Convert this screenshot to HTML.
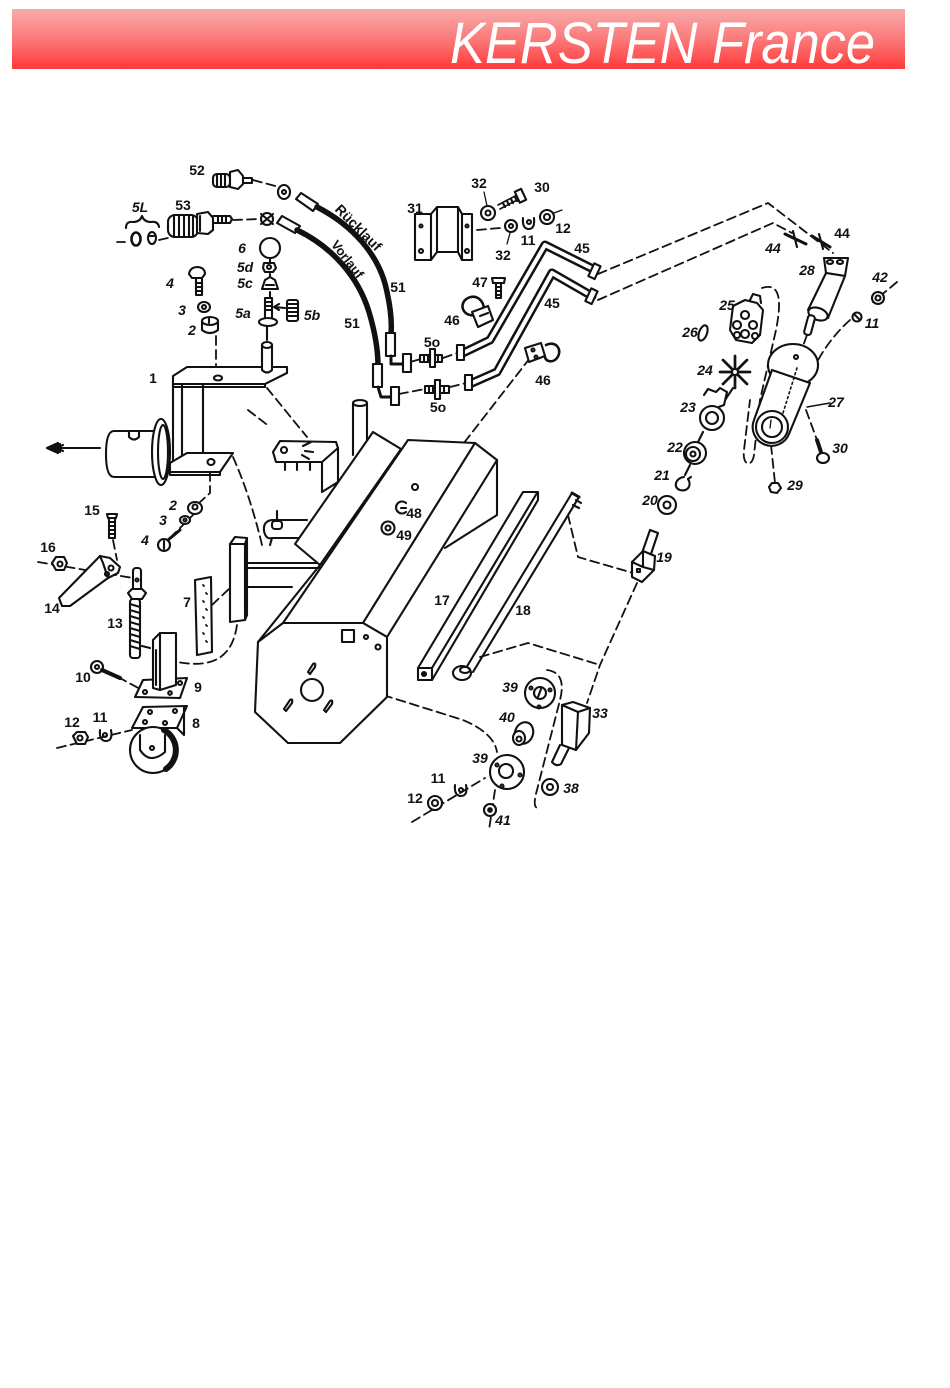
<!DOCTYPE html>
<html><head><meta charset="utf-8">
<style>
html,body{margin:0;padding:0;background:#fff;}
body{width:950px;height:1388px;position:relative;overflow:hidden;}
#hdr{position:absolute;left:12px;top:9px;width:893px;height:60px;background:linear-gradient(to bottom,#f8abab 0%,#fb7a7a 50%,#ff3838 100%);}
svg{position:absolute;left:0;top:0;}
</style></head><body>
<div id="hdr"></div>
<svg width="950" height="1388" viewBox="0 0 950 1388" xmlns="http://www.w3.org/2000/svg">
<text x="450" y="63" font-family="Liberation Sans, sans-serif" font-style="italic" font-size="58" fill="#ffffff" textLength="425" lengthAdjust="spacingAndGlyphs">KERSTEN France</text>

<g stroke="#111" fill="none" stroke-width="2.1" stroke-linejoin="round" stroke-linecap="round">

<!-- ===== dashed connectors ===== -->
<g stroke-dasharray="9 5" stroke-width="1.8">
  <path d="M253,180 L279,187"/>
  <path d="M233,220 L260,219"/>
  <path d="M117,242 L125,242"/>
  <path d="M159,240 L168,238"/>
  <path d="M410,362 L421,359"/>
  <path d="M443,358 L457,353"/>
  <path d="M399,394 L425,389"/>
  <path d="M450,387 L466,383"/>
  <path d="M598,274 L768,203 L833,253"/>
  <path d="M598,300 L773,223 L792,233"/>
  <path d="M477,230 L500,228"/>
  <path d="M530,358 L376,556"/>
  <path d="M216,336 L216,378"/>
  <path d="M267,388 L307,437"/>
  <path d="M248,410 L270,427"/>
  <path d="M210,472 L210,493 L199,503"/>
  <path d="M233,457 Q250,495 262,545"/>
  <path d="M212,605 L230,588"/>
  <path d="M237,625 C232,660 210,668 177,662"/>
  <path d="M303,670 L463,720 Q494,733 497,752"/>
  <path d="M568,515 L578,557 L633,573"/>
  <path d="M637,583 L600,665 L587,703"/>
  <path d="M480,657 L528,643 L600,665"/>
  <path d="M547,670 C562,672 564,684 560,700 L537,790 Q532,808 538,808"/>
  <path d="M412,822 L485,778"/>
  <path d="M495,790 L489,830"/>
  <path d="M57,748 L132,730"/>
  <path d="M118,677 L142,690"/>
  <path d="M38,562 L133,578"/>
  <path d="M113,540 L117,560"/>
  <path d="M196,512 L168,540"/>
  <path d="M850,320 Q830,338 817,362"/>
  <path d="M897,282 L873,302"/>
  <path d="M771,445 L775,483"/>
  <path d="M806,410 L817,440"/>
  <path d="M807,335 L803,346"/>
  <path d="M762,288 C780,282 782,300 776,330 L760,400 L754,455 C752,468 742,466 744,450 L750,400"/>
  <path d="M415,487 L405,500"/>
</g>

<!-- ===== hitch / frame 1 ===== -->
<path d="M47,448 L100,448"/>
<path d="M47,448 L58,443 M47,448 L58,453 M52,448 L60,444 M52,448 L60,452 M56,448 L63,445 M56,448 L63,451"/>
<path d="M157,431 L114,431 Q106,431 106,454 Q106,477 114,477 L157,477" fill="#fff"/>
<path d="M129,431 L129,437 Q134,442 139,437 L139,431"/>
<ellipse cx="161" cy="452" rx="9" ry="33" fill="#fff"/>
<ellipse cx="163" cy="452" rx="5" ry="27"/>
<path d="M173,384 L173,463 M182,384 L182,456 M203,384 L203,453"/>
<polygon points="173,376 187,367 287,367 287,373 265,384 173,384" fill="#fff"/>
<path d="M173,384 L173,387 L265,387 L265,384"/>
<ellipse cx="218" cy="378" rx="4" ry="2.5"/>
<polygon points="170,463 187,453 233,453 220,472 170,472" fill="#fff"/>
<ellipse cx="211" cy="462" rx="3.5" ry="3"/>
<path d="M170,472 L170,475 L220,475 L220,472"/>
<path d="M262,345 L262,370 Q267,375 272,370 L272,345" fill="#fff"/>
<ellipse cx="267" cy="345" rx="5" ry="3" fill="#fff"/>

<!-- stud group 5a-6 -->
<circle cx="270" cy="248" r="10" fill="#fff"/>
<path d="M270,258 L270,262 M270,274 L270,278 M270,292 L270,297 M267,327 L267,340"/>
<path d="M264,263 L274,263 L276,268 L273,272 L265,272 L263,268 Z" fill="#fff"/>
<circle cx="269" cy="267" r="2"/>
<path d="M262,289 L265,280 L270,277 L275,280 L278,289 Z" fill="#fff"/>
<path d="M266,285 L274,285"/>
<rect x="265" y="298" width="7" height="21" fill="#fff"/>
<path d="M265,302 L272,302 M265,306 L272,306 M265,310 L272,310"/>
<ellipse cx="268" cy="322" rx="9" ry="4" fill="#fff"/>
<rect x="287" y="300" width="11" height="21" rx="2" fill="#fff"/>
<path d="M287,304 L298,304 M287,308 L298,308 M287,312 L298,312 M287,316 L298,316"/>
<path d="M285,308 L274,307 M274,307 L279,304 M274,307 L279,310"/>

<!-- bolt 4 / washer 3 / bushing 2 (upper) -->
<path d="M189,274 Q190,267 198,267 Q205,268 205,274 L202,278 L192,278 Z" fill="#fff"/>
<rect x="196" y="278" width="6" height="17" fill="#fff"/>
<path d="M196,283 L202,283 M196,287 L202,287 M196,291 L202,291"/>
<ellipse cx="204" cy="307" rx="6" ry="5" fill="#fff"/>
<circle cx="204" cy="307" r="2"/>
<path d="M202,321 L202,330 Q210,336 218,330 L218,321" fill="#fff"/>
<ellipse cx="210" cy="321" rx="8" ry="4" fill="#fff"/>
<path d="M209,318 L209,323"/>

<!-- fitting 52 -->
<rect x="213" y="174" width="17" height="13" rx="4" fill="#fff"/>
<path d="M217,174 L217,187 M221,174 L221,187 M225,174 L225,187"/>
<path d="M230,172 L238,170 L243,176 L243,184 L238,189 L230,187 Z" fill="#fff"/>
<path d="M243,178 L252,178 L252,183 L243,183"/>
<ellipse cx="284" cy="192" rx="6" ry="7" fill="#fff"/>
<circle cx="284" cy="192" r="2"/>
<polygon points="296,199 301,193 318,204 313,211" fill="#fff"/>
<!-- fitting 53 & 5L -->
<rect x="168" y="215" width="30" height="22" rx="7" fill="#fff"/>
<path d="M174,216 L174,236 M179,215 L179,237 M184,215 L184,237 M189,215 L189,237 M193,216 L193,236"/>
<path d="M197,214 L208,212 L213,218 L213,230 L208,234 L197,233 Z" fill="#fff"/>
<path d="M200,216 L200,231"/>
<path d="M213,216 L230,216 L232,219 L230,223 L213,223"/>
<path d="M218,216 L218,223 M222,216 L222,223 M226,216 L226,223"/>
<circle cx="267" cy="219" r="6" fill="#fff"/>
<path d="M261,214 L273,224 M261,224 L273,214"/>
<polygon points="277,223 282,216 300,226 295,233" fill="#fff"/>
<ellipse cx="136" cy="239" rx="4.5" ry="6.5" stroke-width="2.6"/>
<ellipse cx="152" cy="238" rx="4" ry="6" fill="#fff"/>
<path d="M150,236 L154,236"/>
<path d="M126,228 Q126,221 133,222 Q140,222 142,216 Q144,222 151,222 Q158,221 159,227"/>

<!-- hoses -->
<path d="M317,207 C352,225 380,255 387,292 C391,310 392,322 391,334" stroke-width="5.5"/>
<path d="M297,230 C332,247 358,276 369,312 C375,332 378,350 378,366" stroke-width="5.5"/>
<rect x="386" y="333" width="9" height="23" fill="#fff"/>
<path d="M391,356 L391,364 L403,364" stroke-width="3"/>
<rect x="403" y="354" width="8" height="18" fill="#fff"/>
<rect x="373" y="364" width="9" height="23" fill="#fff"/>
<path d="M378,387 L381,397 L392,397" stroke-width="3"/>
<rect x="391" y="387" width="8" height="18" fill="#fff"/>
<text x="0" y="0" transform="translate(355,231) rotate(45)" text-anchor="middle" font-family="Liberation Sans, sans-serif" font-size="14" fill="#111" stroke="none" font-weight="bold">Rücklauf</text>
<text x="0" y="0" transform="translate(344,262) rotate(52)" text-anchor="middle" font-family="Liberation Sans, sans-serif" font-size="13" fill="#111" stroke="none" font-weight="bold">Vorlauf</text>

<!-- 5o fittings -->
<rect x="420" y="355" width="22" height="7" fill="#fff"/>
<path d="M424,355 L424,362 M428,355 L428,362 M438,355 L438,362"/>
<rect x="430" y="349" width="5" height="18" fill="#fff"/>
<rect x="425" y="386" width="24" height="7" fill="#fff"/>
<path d="M429,386 L429,393 M433,386 L433,393 M444,386 L444,393"/>
<rect x="435" y="380" width="5" height="19" fill="#fff"/>

<!-- pipes 45 -->
<path d="M463,353 L490,340 L545,245 L595,270" stroke-width="9"/>
<path d="M463,353 L490,340 L545,245 L595,270" stroke="#fff" stroke-width="4"/>
<path d="M472,383 L497,372 L552,273 L592,296" stroke-width="9"/>
<path d="M472,383 L497,372 L552,273 L592,296" stroke="#fff" stroke-width="4"/>
<rect x="457" y="345" width="7" height="15" fill="#fff"/>
<rect x="465" y="375" width="7" height="15" fill="#fff"/>
<rect x="591" y="264" width="7" height="14" fill="#fff" transform="rotate(25 594 271)"/>
<rect x="588" y="289" width="7" height="14" fill="#fff" transform="rotate(25 591 296)"/>

<!-- bracket 31 -->
<path d="M415,214 L431,214 L437,207 L458,207 L462,214 L472,214 L472,260 L462,260 L458,252 L437,252 L431,260 L415,260 Z" fill="#fff"/>
<path d="M431,214 L431,260 M437,207 L437,252 M458,207 L458,252 M462,214 L462,260"/>
<circle cx="421" cy="226" r="1.5"/><circle cx="421" cy="251" r="2"/><circle cx="467" cy="226" r="1.5"/><circle cx="467" cy="251" r="2"/>
<!-- 30 bolt, 32, 11, 12 -->
<path d="M484,192 L487,206" stroke-width="1.3"/>
<circle cx="488" cy="213" r="7" fill="#fff"/><circle cx="488" cy="213" r="2.5"/>
<path d="M498,205 L517,195 M500,209 L519,199" stroke-width="1.6"/>
<path d="M503,203 L505,207 M507,201 L509,205 M511,199 L513,203 M515,197 L517,201"/>
<rect x="517" y="190" width="7" height="12" fill="#fff" transform="rotate(-25 520 196)"/>
<circle cx="511" cy="226" r="6" fill="#fff"/><circle cx="511" cy="226" r="2"/>
<path d="M507,244 L510,233" stroke-width="1.3"/>
<path d="M523,218 Q522,229 529,229 Q535,229 534,218" />
<circle cx="529" cy="222" r="2"/>
<circle cx="547" cy="217" r="7" fill="#fff"/><circle cx="547" cy="217" r="3"/>
<path d="M554,213 L562,210" stroke-width="1.3"/>

<!-- clamps 46 / bolt 47 -->
<path d="M477,315 C462,318 458,303 468,298 C476,294 484,300 484,310" stroke-width="2.6"/>
<polygon points="472,312 488,306 493,320 478,327" fill="#fff"/>
<path d="M480,316 L488,313"/>
<path d="M492,278 L505,278 L504,283 L493,283 Z" fill="#fff"/>
<rect x="496" y="283" width="5" height="15" fill="#fff"/>
<path d="M496,287 L501,287 M496,291 L501,291 M496,295 L501,295"/>
<path d="M546,345 C556,340 563,350 557,358 C553,363 546,362 545,357" stroke-width="2.6"/>
<polygon points="525,348 541,343 545,356 529,362" fill="#fff"/>
<circle cx="533" cy="350" r="1.5"/><circle cx="536" cy="357" r="1.5"/>

<!-- 44 fittings & 28 -->
<path d="M785,234 L806,244" stroke-width="3"/>
<path d="M793,231 L797,247"/>
<path d="M812,236 L830,247" stroke-width="3"/>
<path d="M819,234 L823,249"/>
<polygon points="824,258 848,258 845,276 826,273" fill="#fff"/>
<ellipse cx="830" cy="262" rx="3" ry="2"/><ellipse cx="840" cy="262" rx="3" ry="2"/>
<polygon points="826,273 845,276 828,318 808,310" fill="#fff"/>
<ellipse cx="818" cy="314" rx="10" ry="6" fill="#fff" transform="rotate(20 818 314)"/>
<rect x="806" y="315" width="7" height="20" rx="3" fill="#fff" transform="rotate(15 809 325)"/>

<!-- 42, 11 right -->
<circle cx="878" cy="298" r="6" fill="#fff"/><circle cx="878" cy="298" r="2.5"/>
<circle cx="857" cy="317" r="4.5" fill="#fff"/><path d="M855,315 L859,319"/>

<!-- 27 -->
<ellipse cx="793" cy="365" rx="25" ry="21" fill="#fff"/>
<path d="M772,370 L754,420 A17,17 0 0 0 789,434 L810,383 Z" fill="#fff"/>
<circle cx="772" cy="427" r="16" fill="#fff"/>
<circle cx="772" cy="427" r="10"/>
<path d="M771,420 L770,428" stroke-width="1.3"/>
<path d="M797,368 L783,413" stroke-dasharray="2 3" stroke-width="1.6"/>
<circle cx="796" cy="357" r="2"/>
<path d="M807,407 L830,403" stroke-width="1.4"/>
<!-- 30, 29 -->
<path d="M817,440 L822,455" stroke-width="4"/>
<ellipse cx="823" cy="458" rx="6" ry="5" fill="#fff"/>
<path d="M772,483 L778,483 L781,488 L777,493 L771,492 L769,487 Z" fill="#fff"/>

<!-- 25, 26, 24, 23, 22, 21, 20 -->
<path d="M745,300 L757,303 L763,310 L760,335 L752,343 L736,340 L730,330 L733,306 Z" fill="#fff"/>
<circle cx="745" cy="315" r="4"/><circle cx="737" cy="325" r="4"/><circle cx="753" cy="325" r="4"/><circle cx="745" cy="334" r="4"/><circle cx="737" cy="335" r="3"/><circle cx="755" cy="336" r="3"/>
<path d="M750,300 L753,294 L760,296 L761,303"/>
<ellipse cx="703" cy="333" rx="4" ry="8" transform="rotate(20 703 333)"/>
<path d="M735,372 L735,356 M735,372 L747,360 M735,372 L750,372 M735,372 L747,384 M735,372 L735,388 M735,372 L723,384 M735,372 L720,372 M735,372 L723,360" stroke-width="2.7"/>
<circle cx="735" cy="372" r="3" fill="#fff"/>
<path d="M733,388 L725,400"/>
<path d="M704,395 L708,389 L716,392 L720,388 L727,392 L724,405 L716,408" fill="#fff"/>
<circle cx="712" cy="418" r="12" fill="#fff"/>
<circle cx="712" cy="418" r="6"/>
<path d="M703,432 L698,442"/>
<ellipse cx="695" cy="453" rx="11" ry="11" fill="#fff"/>
<circle cx="693" cy="454" r="7"/><circle cx="693" cy="454" r="2.5"/>
<path d="M690,465 L685,475"/>
<path d="M684,477 C675,478 673,488 680,490 C688,492 692,485 688,479"/>
<path d="M688,479 L691,477"/>
<circle cx="667" cy="505" r="9" fill="#fff"/><circle cx="667" cy="505" r="3.5"/>
<!-- 19 -->
<polygon points="642,553 650,530 658,533 650,557" fill="#fff"/>
<polygon points="632,562 643,551 655,556 654,570 642,582 632,577" fill="#fff"/>
<path d="M643,551 L643,567 L654,570 M632,562 L643,567"/>
<rect x="637" y="569" width="3" height="3"/>

<!-- posts behind housing -->
<path d="M353,403 L353,455 M367,403 L367,450" fill="#fff"/>
<ellipse cx="360" cy="403" rx="7" ry="3" fill="#fff"/>
<path d="M273,452 L280,441 L336,442 L338,448 L322,462 L276,462 Z" fill="#fff"/>
<path d="M322,462 L322,492 M338,448 L338,482 M322,492 L338,482"/>
<path d="M285,462 L285,470 M297,462 L297,470 M310,462 L310,470"/>
<circle cx="284" cy="450" r="3"/>
<path d="M303,446 L311,442 M305,451 L313,452 M302,455 L309,459"/>
<!-- small bracket 10 -->
<path d="M307,520 L272,520 Q263,521 264,531 Q266,540 272,538 L300,538" fill="#fff"/>
<path d="M272,538 L270,545"/>
<rect x="272" y="521" width="10" height="8" rx="3" fill="#fff"/>
<path d="M277,520 L277,511"/>
<!-- beam and post -->
<path d="M247,563 L322,563 M247,568 L322,568 M247,587 L292,587" />
<path d="M230,544 L230,622 L245,620 L245,541" fill="#fff"/>
<polygon points="230,544 235,537 247,538 245,544" fill="#fff"/>
<path d="M247,538 L247,615 L245,620"/>

<!-- ===== housing ===== -->
<polygon points="295,544 373,432 401,449 320,565" fill="#fff"/>
<polygon points="283,623 408,440 475,443 363,623" fill="#fff"/>
<polygon points="363,623 475,443 497,460 387,637" fill="#fff"/>
<path d="M497,460 L497,515 L445,548"/>
<path d="M258,642 L320,565"/>
<polygon points="258,642 283,623 363,623 387,637 387,697 340,743 288,743 255,712" fill="#fff"/>
<rect x="342" y="630" width="12" height="12"/>
<circle cx="366" cy="637" r="2"/><circle cx="378" cy="647" r="2.5"/>
<circle cx="312" cy="690" r="11"/>
<path d="M308,672 L313,664 Q316,662 315,667 L310,674 Z"/>
<path d="M284,709 L290,700 Q293,698 292,703 L286,711 Z"/>
<path d="M324,710 L330,701 Q333,699 332,704 L326,712 Z"/>
<circle cx="415" cy="487" r="3" fill="#fff"/>
<path d="M406,503 A6,6 0 1 0 406,512 M401,508 L406,508"/>
<circle cx="388" cy="528" r="6.5" fill="#fff"/><circle cx="388" cy="528" r="2.5"/>

<!-- 17 bar -->
<polygon points="418,668 523,492 538,492 538,500 432,680 418,680" fill="#fff"/>
<path d="M432,668 L537,493 M418,668 L432,668 L432,680"/>
<circle cx="424" cy="674" r="2" fill="#111"/>
<!-- 18 rod -->
<path d="M466,668 L572,493 M473,672 L579,497"/>
<path d="M572,493 L579,497" stroke-width="3"/>
<path d="M573,505 L579,508 M576,500 L581,503"/>
<ellipse cx="462" cy="673" rx="9" ry="7" fill="#fff"/>
<ellipse cx="465" cy="670" rx="5" ry="3"/>

<!-- 39, 40, 33, 38, 41, 11, 12 lower -->
<circle cx="540" cy="693" r="15" fill="#fff"/>
<circle cx="540" cy="693" r="6"/>
<circle cx="531" cy="688" r="1.5"/><circle cx="550" cy="690" r="1.5"/><circle cx="539" cy="707" r="1.5"/>
<path d="M538,697 L541,689"/>
<ellipse cx="524" cy="733" rx="9" ry="11" fill="#fff" transform="rotate(20 524 733)"/>
<ellipse cx="519" cy="738" rx="6" ry="7" fill="#fff"/>
<circle cx="519" cy="739" r="2.5"/>
<circle cx="507" cy="772" r="17" fill="#fff"/>
<circle cx="506" cy="771" r="7"/>
<circle cx="497" cy="765" r="1.5"/><circle cx="520" cy="775" r="1.5"/><circle cx="502" cy="786" r="1.5"/>
<polygon points="562,705 573,702 590,708 589,733 576,750 562,745" fill="#fff"/>
<path d="M562,705 L578,712 L590,708 M578,712 L576,750"/>
<path d="M560,745 L552,762 Q556,767 561,764 L569,748"/>
<circle cx="550" cy="787" r="8" fill="#fff"/><circle cx="550" cy="787" r="3"/>
<circle cx="490" cy="810" r="6" fill="#fff"/><circle cx="490" cy="810" r="1.8" fill="#111"/>
<path d="M455,785 Q454,796 461,796 Q468,796 466,785"/>
<circle cx="461" cy="790" r="2"/>
<circle cx="435" cy="803" r="7" fill="#fff"/><circle cx="435" cy="803" r="3"/>

<!-- lower left -->
<ellipse cx="195" cy="508" rx="7" ry="6" fill="#fff"/><circle cx="195" cy="507" r="2.5"/>
<ellipse cx="185" cy="520" rx="5" ry="4" fill="#fff"/><circle cx="185" cy="520" r="1.5"/>
<circle cx="164" cy="545" r="6" fill="#fff"/><path d="M164,541 L164,549"/>
<path d="M168,540 L180,530" stroke-width="3"/>
<path d="M107,514 L117,514 L116,518 L108,518 Z" fill="#fff"/>
<rect x="109" y="518" width="6" height="20" fill="#fff"/>
<path d="M109,522 L115,522 M109,526 L115,526 M109,530 L115,530 M109,534 L115,534"/>
<path d="M52,563 L56,557 L64,557 L67,563 L64,570 L56,570 Z" fill="#fff"/>
<circle cx="60" cy="564" r="2.5"/>
<polygon points="59,598 100,556 110,558 120,567 118,573 108,578 70,606 62,606" fill="#fff"/>
<path d="M100,556 L103,563 L108,578"/>
<circle cx="111" cy="568" r="2.5"/><circle cx="107" cy="574" r="2"/>
<rect x="133" y="568" width="8" height="23" rx="3" fill="#fff"/>
<circle cx="137" cy="580" r="1.5"/>
<path d="M128,593 L132,589 L142,589 L146,593 L142,599 L132,599 Z" fill="#fff"/>
<rect x="130" y="599" width="10" height="59" rx="3" fill="#fff"/>
<path d="M130,604 L140,607 M130,610 L140,613 M130,616 L140,619 M130,622 L140,625 M130,628 L140,631 M130,634 L140,637 M130,640 L140,643 M130,646 L140,649"/>
<path d="M142,646 L150,648"/>
<circle cx="97" cy="667" r="6" fill="#fff"/><circle cx="97" cy="667" r="2"/>
<path d="M102,670 L120,678" stroke-width="4"/>
<polygon points="135,697 143,680 187,678 180,698" fill="#fff"/>
<circle cx="145" cy="692" r="2"/><circle cx="180" cy="683" r="2"/><circle cx="170" cy="693" r="1.8"/>
<polygon points="153,640 160,633 176,633 176,685 160,690 153,688" fill="#fff"/>
<path d="M160,633 L160,690"/>
<path d="M156,650 L156,685"/>
<polygon points="132,728 143,707 187,706 177,728" fill="#fff"/>
<circle cx="150" cy="712" r="2"/><circle cx="175" cy="711" r="2"/><circle cx="145" cy="722" r="2"/><circle cx="165" cy="723" r="2"/>
<path d="M177,728 L184,735 L184,706"/>
<circle cx="153" cy="750" r="23" fill="#fff"/>
<path d="M164,730 A23,23 0 0 1 166,769" stroke-width="6"/>
<path d="M140,735 L140,750 Q150,765 165,752 L165,735"/>
<circle cx="152" cy="748" r="2"/>
<path d="M100,730 Q99,741 106,741 Q113,741 111,730"/>
<circle cx="105" cy="735" r="2"/>
<path d="M73,736 L77,732 L85,732 L88,737 L85,744 L77,744 Z" fill="#fff"/>
<circle cx="80" cy="738" r="2.5"/>
<polygon points="195,580 211,577 212,652 197,655" fill="#fff"/>
<g stroke-width="1.8">
<path d="M203,585 L204,586 M206,593 L207,594 M203,601 L204,602 M206,609 L207,610 M203,617 L204,618 M206,625 L207,626 M203,633 L204,634 M206,641 L207,642"/>
</g>
</g>

<!-- ===== labels ===== -->
<g font-family="Liberation Sans, sans-serif" font-size="14" fill="#111" text-anchor="middle" font-weight="bold">
<text x="197" y="175">52</text>
<text x="183" y="210">53</text>
<text x="140" y="212" font-style="italic">5L</text>
<text x="242" y="253" font-style="italic">6</text>
<text x="245" y="272" font-style="italic">5d</text>
<text x="245" y="288" font-style="italic">5c</text>
<text x="243" y="318" font-style="italic">5a</text>
<text x="312" y="320" font-style="italic">5b</text>
<text x="170" y="288" font-style="italic">4</text>
<text x="182" y="315" font-style="italic">3</text>
<text x="192" y="335" font-style="italic">2</text>
<text x="153" y="383">1</text>
<text x="398" y="292">51</text>
<text x="352" y="328">51</text>
<text x="415" y="213">31</text>
<text x="479" y="188">32</text>
<text x="542" y="192">30</text>
<text x="503" y="260">32</text>
<text x="528" y="245">11</text>
<text x="563" y="233">12</text>
<text x="582" y="253">45</text>
<text x="552" y="308">45</text>
<text x="480" y="287">47</text>
<text x="452" y="325">46</text>
<text x="543" y="385">46</text>
<text x="432" y="347">5o</text>
<text x="438" y="412">5o</text>
<text x="842" y="238">44</text>
<text x="773" y="253" font-style="italic">44</text>
<text x="807" y="275" font-style="italic">28</text>
<text x="880" y="282" font-style="italic">42</text>
<text x="872" y="328" font-style="italic">11</text>
<text x="727" y="310" font-style="italic">25</text>
<text x="690" y="337" font-style="italic">26</text>
<text x="705" y="375" font-style="italic">24</text>
<text x="688" y="412" font-style="italic">23</text>
<text x="836" y="407" font-style="italic">27</text>
<text x="840" y="453" font-style="italic">30</text>
<text x="675" y="452" font-style="italic">22</text>
<text x="662" y="480" font-style="italic">21</text>
<text x="795" y="490" font-style="italic">29</text>
<text x="650" y="505" font-style="italic">20</text>
<text x="664" y="562" font-style="italic">19</text>
<text x="414" y="518">48</text>
<text x="404" y="540">49</text>
<text x="173" y="510" font-style="italic">2</text>
<text x="163" y="525" font-style="italic">3</text>
<text x="145" y="545" font-style="italic">4</text>
<text x="92" y="515">15</text>
<text x="48" y="552">16</text>
<text x="52" y="613">14</text>
<text x="115" y="628">13</text>
<text x="187" y="607">7</text>
<text x="442" y="605">17</text>
<text x="523" y="615">18</text>
<text x="83" y="682">10</text>
<text x="198" y="692">9</text>
<text x="196" y="728">8</text>
<text x="100" y="722">11</text>
<text x="72" y="727">12</text>
<text x="510" y="692" font-style="italic">39</text>
<text x="600" y="718" font-style="italic">33</text>
<text x="507" y="722" font-style="italic">40</text>
<text x="480" y="763" font-style="italic">39</text>
<text x="571" y="793" font-style="italic">38</text>
<text x="438" y="783">11</text>
<text x="415" y="803">12</text>
<text x="503" y="825" font-style="italic">41</text>
</g>
</svg>
</body></html>
